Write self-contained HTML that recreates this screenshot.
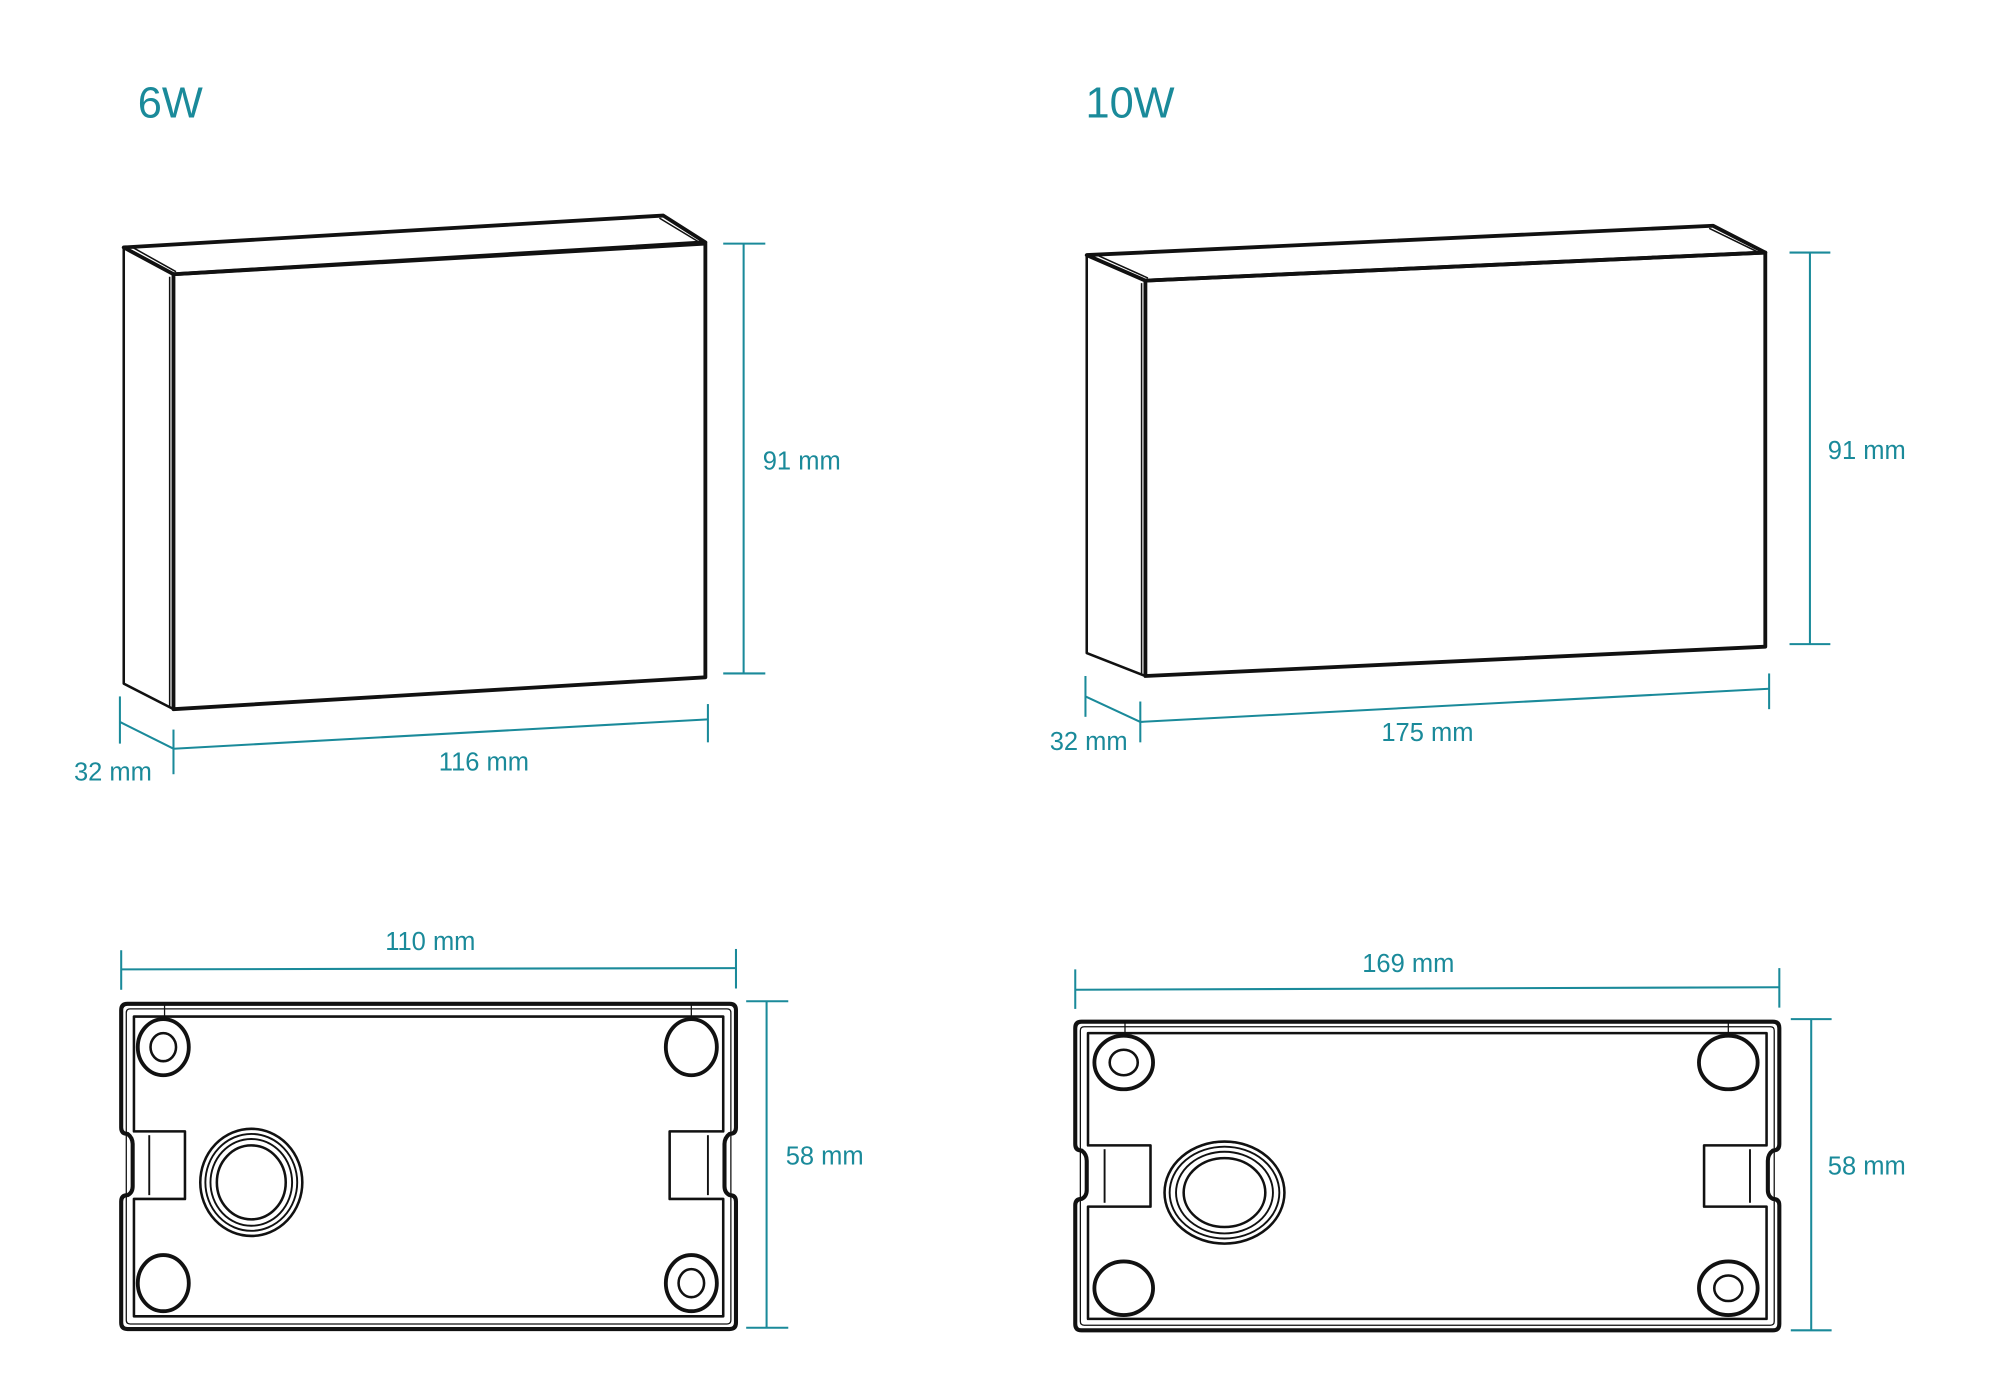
<!DOCTYPE html>
<html><head><meta charset="utf-8"><style>
html,body{margin:0;padding:0;background:#fff;width:2000px;height:1395px;overflow:hidden}
svg{display:block}
text{font-family:"Liberation Sans",sans-serif;fill:#1a8a9a}
</style></head><body>
<svg width="2000" height="1395" viewBox="0 0 1568 1093.7" xmlns="http://www.w3.org/2000/svg">
<g fill="none" stroke-linejoin="round">
<!-- Titles -->
<text x="108" y="92" font-size="34" stroke="none">6W</text>
<text x="851" y="92" font-size="34" stroke="none">10W</text>

<!-- 6W box -->
<g stroke="#111">
<polygon points="97,194 520,169 553,190 136,215" stroke-width="3"/>
<polygon points="136,215 553,191 553,531 136,556" stroke-width="3"/>
<polygon points="97,194 136,215 136,556 97,536" stroke-width="2"/>
<line x1="104" y1="194" x2="138" y2="213" stroke-width="1.2"/>
<line x1="517" y1="171" x2="550" y2="191" stroke-width="1.2"/>
<line x1="133" y1="217" x2="133" y2="554" stroke-width="1.2"/>
</g>
<g stroke="#1a8a9a" stroke-width="1.6">
<line x1="583" y1="191" x2="583" y2="528"/><line x1="567" y1="191" x2="600" y2="191"/><line x1="567" y1="528" x2="600" y2="528"/>
<line x1="136" y1="587" x2="555" y2="564"/><line x1="136" y1="572" x2="136" y2="607"/><line x1="555" y1="552" x2="555" y2="582"/>
<line x1="94" y1="566" x2="136" y2="587"/><line x1="94" y1="546" x2="94" y2="583"/>
</g>
<text x="598" y="368" font-size="20" stroke="none">91 mm</text>
<text x="58" y="612" font-size="20" stroke="none">32 mm</text>
<text x="344" y="604" font-size="20" stroke="none">116 mm</text>

<!-- 10W box -->
<g stroke="#111">
<polygon points="852,200 1343,177 1384,198 898,220" stroke-width="3"/>
<polygon points="898,220 1384,198 1384,507 898,530" stroke-width="3"/>
<polygon points="852,200 898,220 898,530 852,512" stroke-width="2"/>
<line x1="860" y1="200" x2="900" y2="218" stroke-width="1.2"/>
<line x1="1340" y1="179" x2="1381" y2="199" stroke-width="1.2"/>
<line x1="895" y1="222" x2="895" y2="528" stroke-width="1.2"/>
</g>
<g stroke="#1a8a9a" stroke-width="1.6">
<line x1="1419" y1="198" x2="1419" y2="505"/><line x1="1403" y1="198" x2="1435" y2="198"/><line x1="1403" y1="505" x2="1435" y2="505"/>
<line x1="894" y1="566" x2="1387" y2="540"/><line x1="894" y1="550" x2="894" y2="582"/><line x1="1387" y1="528" x2="1387" y2="556"/>
<line x1="851" y1="546" x2="894" y2="566"/><line x1="851" y1="530" x2="851" y2="562"/>
</g>
<text x="1433" y="360" font-size="20" stroke="none">91 mm</text>
<text x="823" y="588" font-size="20" stroke="none">32 mm</text>
<text x="1083" y="581" font-size="20" stroke="none">175 mm</text>

<!-- 6W plate -->
<g stroke="#111">
<path d="M100,787 H572 Q577,787 577,792 V884 Q577,889 572,889 Q568,892 568,897 V930 Q568,935 572,937 Q577,937 577,942 V1037 Q577,1042 572,1042 H100 Q95,1042 95,1037 V942 Q95,937 100,937 Q104,935 104,930 V897 Q104,892 100,889 Q95,889 95,884 V792 Q95,787 100,787 Z" stroke-width="3.2"/>
<path d="M102,791 H570 Q573,791 573,794 V1035 Q573,1038 570,1038 H102 Q99,1038 99,1035 V794 Q99,791 102,791 Z" stroke-width="1" stroke-dasharray="0"/>
<path d="M105,797 H567 V887 H525 V940 H567 V1032 H105 V940 H145 V887 H105 Z" stroke-width="2"/>
<line x1="117" y1="890" x2="117" y2="937" stroke-width="1.5"/>
<line x1="555" y1="890" x2="555" y2="937" stroke-width="1.5"/>
<line x1="129" y1="787" x2="129" y2="797" stroke-width="1"/>
<line x1="542" y1="787" x2="542" y2="797" stroke-width="1"/>
<ellipse cx="128" cy="821" rx="20" ry="22" stroke-width="3"/><ellipse cx="128" cy="821" rx="10" ry="11" stroke-width="2"/>
<ellipse cx="542" cy="821" rx="20" ry="22" stroke-width="3"/>
<ellipse cx="128" cy="1006" rx="20" ry="22" stroke-width="3"/>
<ellipse cx="542" cy="1006" rx="20" ry="22" stroke-width="3"/><ellipse cx="542" cy="1006" rx="10" ry="11" stroke-width="2"/>
<ellipse cx="197" cy="927" rx="40" ry="42" stroke-width="2"/>
<ellipse cx="197" cy="927" rx="36" ry="38" stroke-width="1.5"/>
<ellipse cx="197" cy="927" rx="32" ry="34" stroke-width="1.5"/>
<ellipse cx="197" cy="927" rx="27" ry="29" stroke-width="2"/>
</g>
<g stroke="#1a8a9a" stroke-width="1.6">
<line x1="95" y1="760" x2="577" y2="759"/><line x1="95" y1="745" x2="95" y2="776"/><line x1="577" y1="744" x2="577" y2="775"/>
<line x1="601" y1="785" x2="601" y2="1041"/><line x1="585" y1="785" x2="618" y2="785"/><line x1="585" y1="1041" x2="618" y2="1041"/>
</g>
<text x="302" y="745" font-size="20" stroke="none">110 mm</text>
<text x="616" y="913" font-size="20" stroke="none">58 mm</text>

<!-- 10W plate -->
<g stroke="#111">
<path d="M848,801 H1390 Q1395,801 1395,806 V897 Q1395,902 1390,902 Q1386,905 1386,910 V933 Q1386,938 1390,940 Q1395,940 1395,945 V1038 Q1395,1043 1390,1043 H848 Q843,1043 843,1038 V945 Q843,940 848,940 Q852,938 852,933 V910 Q852,905 848,902 Q843,902 843,897 V806 Q843,801 848,801 Z" stroke-width="3.2"/>
<path d="M850,805 H1388 Q1391,805 1391,808 V1036 Q1391,1039 1388,1039 H850 Q847,1039 847,1036 V808 Q847,805 850,805 Z" stroke-width="1"/>
<path d="M853,810 H1385 V898 H1336 V946 H1385 V1034 H853 V946 H902 V898 H853 Z" stroke-width="2"/>
<line x1="866" y1="901" x2="866" y2="943" stroke-width="1.5"/>
<line x1="1372" y1="901" x2="1372" y2="943" stroke-width="1.5"/>
<line x1="882" y1="801" x2="882" y2="810" stroke-width="1"/>
<line x1="1355" y1="801" x2="1355" y2="810" stroke-width="1"/>
<ellipse cx="881" cy="833" rx="23" ry="21" stroke-width="3"/><ellipse cx="881" cy="833" rx="11" ry="10" stroke-width="2"/>
<ellipse cx="1355" cy="833" rx="23" ry="21" stroke-width="3"/>
<ellipse cx="881" cy="1010" rx="23" ry="21" stroke-width="3"/>
<ellipse cx="1355" cy="1010" rx="23" ry="21" stroke-width="3"/><ellipse cx="1355" cy="1010" rx="11" ry="10" stroke-width="2"/>
<ellipse cx="960" cy="935" rx="47" ry="40" stroke-width="2"/>
<ellipse cx="960" cy="935" rx="43" ry="36" stroke-width="1.5"/>
<ellipse cx="960" cy="935" rx="38" ry="32" stroke-width="1.5"/>
<ellipse cx="960" cy="935" rx="32" ry="27" stroke-width="2"/>
</g>
<g stroke="#1a8a9a" stroke-width="1.6">
<line x1="843" y1="776" x2="1395" y2="774"/><line x1="843" y1="760" x2="843" y2="791"/><line x1="1395" y1="759" x2="1395" y2="790"/>
<line x1="1420" y1="799" x2="1420" y2="1043"/><line x1="1404" y1="799" x2="1436" y2="799"/><line x1="1404" y1="1043" x2="1436" y2="1043"/>
</g>
<text x="1068" y="762" font-size="20" stroke="none">169 mm</text>
<text x="1433" y="921" font-size="20" stroke="none">58 mm</text>
</g>
</svg>
</body></html>
